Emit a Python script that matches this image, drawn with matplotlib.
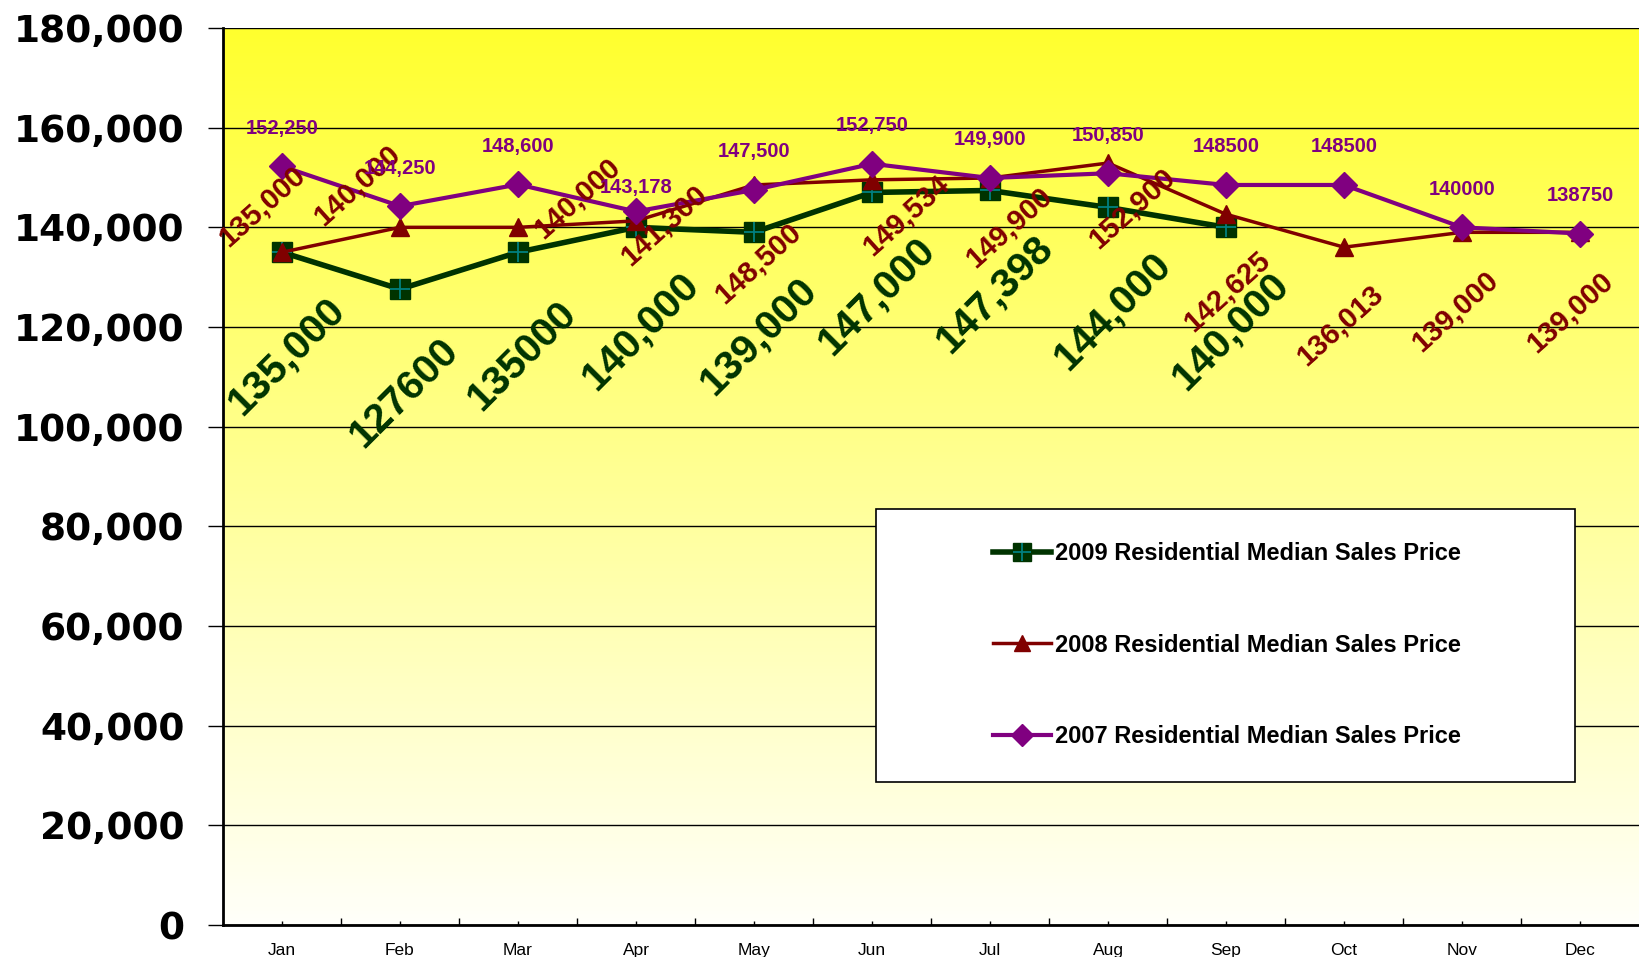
import numpy as np
import matplotlib
matplotlib.use('Agg')
import matplotlib.pyplot as plt
from matplotlib.patches import Rectangle
from matplotlib.colors import LinearSegmentedColormap
from matplotlib.ticker import FuncFormatter, FixedLocator
from matplotlib.legend_handler import HandlerTuple

# Données
months = ['Jan', 'Feb', 'Mar', 'Apr', 'May', 'Jun', 'Jul', 'Aug', 'Sep', 'Oct', 'Nov', 'Dec']

sales_2009 = [135000, 127600, 135000, 140000, 139000, 147000, 147398, 144000, 140000]
labels_2009 = ['135,000', '127600', '135000', '140,000', '139,000', '147,000', '147,398', '144,000', '140,000']

sales_2008 = [135000, 140000, 140000, 141300, 148500, 149534, 149900, 152900, 142625, 136013, 139000, 139000]
labels_2008 = ['135,000', '140,000', '140,000', '141,300', '148,500', '149,534', '149,900', '152,900',
               '142,625', '136,013', '139,000', '139,000']

sales_2007 = [152250, 144250, 148600, 143178, 147500, 152750, 149900, 150850, 148500, 148500, 140000, 138750]
labels_2007 = ['152,250', '144,250', '148,600', '143,178', '147,500', '152,750', '149,900', '150,850',
               '148500', '148500', '140000', '138750']

series_names = ['2009 Residential Median Sales Price',
                '2008 Residential Median Sales Price',
                '2007 Residential Median Sales Price']

# Décalages des étiquettes (pixels)
off_2008 = [(-20, 46), (-43, 42), (59, 29), (28, -5), (4, -78), (34, -36), (19, -49), (24, -45),
            (1, -77), (-4, -78), (-7, -79), (-10, -80)]
off_2007 = [38, 38, 38, 24, 38, 38, 38, 38, 38, 38, 38, 38]

GREEN = '#003300'
RED = '#800000'
PURPLE = '#800080'

fig = plt.figure(figsize=(16.39, 9.57), dpi=100)
ax = fig.add_axes([223 / 1639, 32 / 957, 1 - 223 / 1639, 897 / 957])

# Fond en dégradé jaune
cmap = LinearSegmentedColormap.from_list('jaune', ['#FFFF2E', '#FFFFFA'])
ax.imshow(np.linspace(0, 1, 256).reshape(-1, 1), extent=[0, 1, 0, 1], transform=ax.transAxes,
          aspect='auto', cmap=cmap, zorder=0)

x = np.arange(1, 13)

g_line, = ax.plot(x[:len(sales_2009)], sales_2009, color=GREEN, lw=4, marker='s', ms=15,
                  mfc=GREEN, mec=GREEN, zorder=3)
g_cross, = ax.plot(x[:len(sales_2009)], sales_2009, ls='none', marker='+', ms=15,
                   mec='#008080', mew=1.3, zorder=3.1)
r_line, = ax.plot(x, sales_2008, color=RED, lw=2.5, marker='^', ms=13, mfc=RED, mec=RED, zorder=4)
p_line, = ax.plot(x, sales_2007, color=PURPLE, lw=3, marker='D', ms=13, mfc=PURPLE, mec=PURPLE, zorder=5)

# Étiquettes de données
for xi, yi, lbl in zip(x, sales_2009, labels_2009):
    ax.annotate(lbl, (xi, yi), xytext=(4, -104), textcoords='offset pixels', ha='center', va='center',
                rotation=45, rotation_mode='anchor', fontsize=29.5, fontweight='bold',
                family='Liberation Sans', color=GREEN, zorder=8)
for xi, yi, lbl, (dx, dy) in zip(x, sales_2008, labels_2008, off_2008):
    ax.annotate(lbl, (xi, yi), xytext=(dx, dy), textcoords='offset pixels', ha='center', va='center',
                rotation=42, rotation_mode='anchor', fontsize=21, fontweight='bold',
                family='Liberation Sans', color=RED, zorder=8)
for xi, yi, lbl, dy in zip(x, sales_2007, labels_2007, off_2007):
    ax.annotate(lbl, (xi, yi), xytext=(0, dy), textcoords='offset pixels', ha='center', va='center',
                fontsize=14.5, fontweight='bold', family='Liberation Sans', color=PURPLE, zorder=8)

# Axes
ax.set_xlim(0.5, 12.5)
ax.set_ylim(0, 180000)
ax.set_yticks(np.arange(0, 180001, 20000))
ax.yaxis.set_major_formatter(FuncFormatter(lambda v, p: f'{v:,.0f}'))
ax.yaxis.grid(True, color='black', lw=1)
ax.set_axisbelow(True)
ax.tick_params(axis='y', direction='out', length=10.8, width=1, pad=17)
for t in ax.get_yticklabels():
    t.set_fontsize(27)
    t.set_fontweight('bold')
    t.set_family('DejaVu Sans')

ax.set_xticks(x)
ax.set_xticklabels(months, fontsize=12.5, family='Liberation Sans')
ax.xaxis.set_minor_locator(FixedLocator(np.arange(1.5, 12, 1)))
ax.tick_params(axis='x', which='major', direction='in', length=3, width=1, pad=13)
ax.tick_params(axis='x', which='minor', direction='in', length=5, width=1)

for s in ['top', 'right']:
    ax.spines[s].set_visible(False)
ax.spines['left'].set_linewidth(2)
ax.spines['bottom'].set_linewidth(2)

# Légende
ax.add_patch(Rectangle((0.461, 0.159), 0.494, 0.305, transform=ax.transAxes,
                       facecolor='white', edgecolor='black', lw=1.2, zorder=6))
leg = ax.legend([(g_line, g_cross), r_line, p_line], series_names, loc='center',
                bbox_to_anchor=(0.709, 0.312), frameon=False, numpoints=1,
                handler_map={tuple: HandlerTuple(ndivide=1)},
                prop={'family': 'Liberation Sans', 'weight': 'bold', 'size': 17},
                labelspacing=2.9, handlelength=2.45, handletextpad=0.2, markerscale=0.85)
leg.set_zorder(7)

plt.savefig('out.png', dpi=100)
